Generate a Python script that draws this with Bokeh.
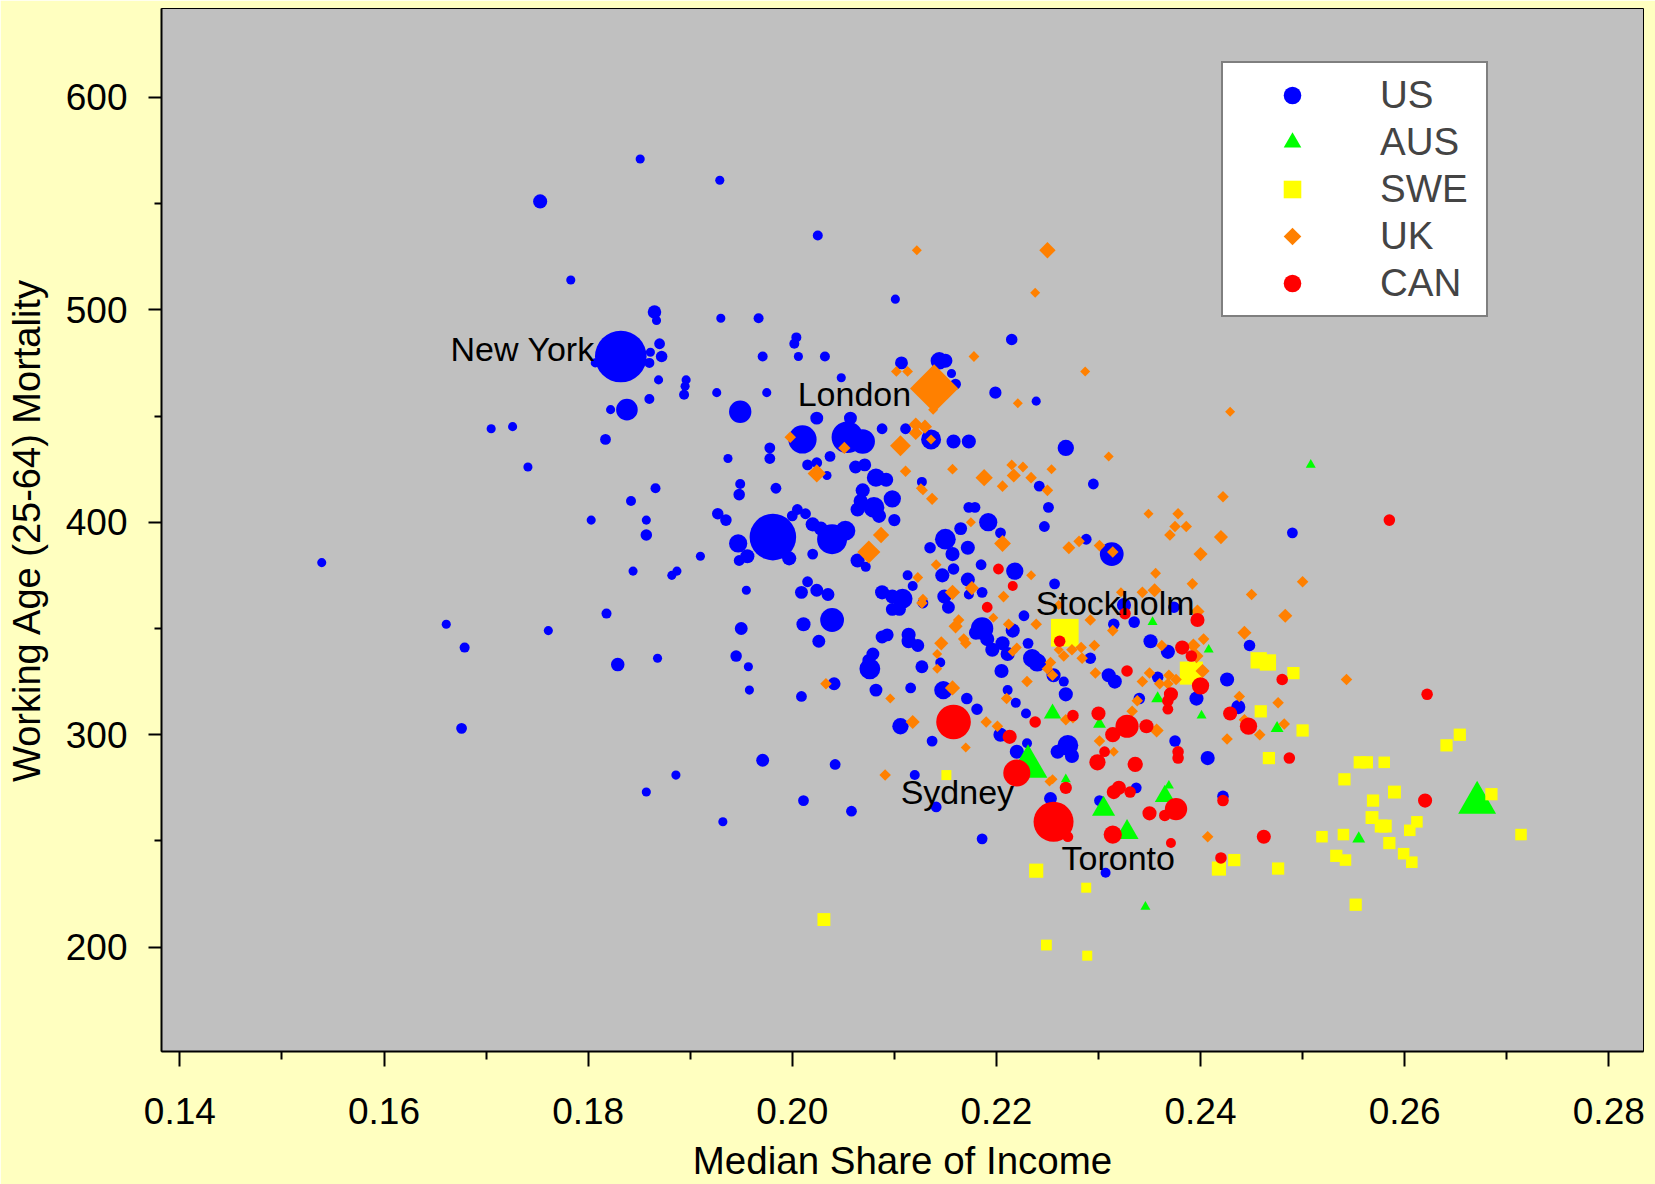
import numpy as np
from bokeh.plotting import figure
from bokeh.models import (ColumnDataSource, Range1d, FixedTicker, Legend, LegendItem,
                          CustomJSTickFormatter)
from bokeh.embed import file_html
from bokeh.resources import INLINE

# Median share of income vs working-age mortality, metro areas by country.
# pop = metropolitan population (millions), drives marker size.

us_share = [
    0.1832, 0.1851, 0.1929, 0.1753, 0.1783, 0.1865, 0.1867, 0.1930, 0.1870, 0.1872,
    0.1861, 0.1860, 0.1807, 0.1869, 0.1896, 0.1895, 0.1894, 0.1926, 0.1949, 0.1838,
    0.1822, 0.1860, 0.1705, 0.1726, 0.1817, 0.1741, 0.1937, 0.1949, 0.1948, 0.1866,
    0.1842, 0.1803, 0.1857, 0.1857, 0.1927, 0.1935, 0.1947, 0.1910, 0.1539, 0.1661,
    0.1679, 0.1761, 0.1818, 0.1829, 0.1868, 0.1844, 0.1887, 0.1882, 0.1948, 0.1955,
    0.1950, 0.1945, 0.1957, 0.1958, 0.1676, 0.1886, 0.1857, 0.1932, 0.2025, 0.2101,
    0.1967, 0.2004, 0.2002, 0.1971, 0.2006, 0.2032, 0.2048, 0.2215, 0.2107, 0.2144,
    0.2150, 0.2156, 0.2160, 0.1975, 0.2199, 0.2239, 0.2024, 0.2057, 0.2010, 0.2054,
    0.2069, 0.2088, 0.2111, 0.2136, 0.2158, 0.1978, 0.1978, 0.2037, 0.2015, 0.2024,
    0.2034, 0.2062, 0.2071, 0.2082, 0.2092, 0.2069, 0.2067, 0.2080, 0.2098, 0.2064,
    0.2085, 0.2100, 0.2127, 0.1984, 0.1981, 0.2005, 0.2013, 0.2000, 0.1997, 0.2020,
    0.2039, 0.2052, 0.2028, 0.2020, 0.1956, 0.2015, 0.2009, 0.2024, 0.2035, 0.2064,
    0.2072, 0.2113, 0.2118, 0.2135, 0.2150, 0.2157, 0.2147, 0.2158, 0.2165, 0.2088,
    0.2098, 0.2108, 0.2173, 0.2268, 0.2295, 0.2242, 0.2251, 0.2247, 0.2173, 0.2179,
    0.2192, 0.2204, 0.2172, 0.2185, 0.2218, 0.2172, 0.2186, 0.2257, 0.2288, 0.2313,
    0.2490, 0.2039, 0.2011, 0.2026, 0.2009, 0.2041, 0.2082, 0.2076, 0.2079, 0.2075,
    0.2098, 0.2105, 0.2088, 0.2093, 0.2114, 0.2114, 0.2123, 0.2128, 0.2149, 0.2153,
    0.2145, 0.2127, 0.2116, 0.2148, 0.2042, 0.1971, 0.2106, 0.2137, 0.2120, 0.2186,
    0.2180, 0.2191, 0.2196, 0.2216, 0.2206, 0.2211, 0.2227, 0.2231, 0.2235, 0.2240,
    0.2205, 0.2211, 0.2219, 0.2229, 0.2171, 0.2181, 0.2204, 0.2256, 0.2266, 0.2268,
    0.2173, 0.2325, 0.2335, 0.2351, 0.2315, 0.2292, 0.2310, 0.2316, 0.2358, 0.2340,
    0.2270, 0.2260, 0.2274, 0.2220, 0.2230, 0.2374, 0.2368, 0.2448, 0.2426, 0.2396,
    0.2437, 0.2375, 0.2407, 0.2011, 0.2058, 0.2141, 0.2186, 0.2253, 0.2301, 0.2337,
    0.2422, 0.2307,
]
us_mort = [
    478, 571, 561, 551, 514, 499, 495, 496, 484, 478,
    480, 475, 475, 467, 467, 464, 460, 461, 452, 453,
    453, 458, 444, 445, 439, 426, 430, 418, 413, 416,
    410, 401, 401, 394, 404, 401, 390, 384, 381, 352,
    341, 349, 357, 333, 336, 377, 377, 375, 382, 368,
    350, 337, 332, 321, 303, 281, 273, 259, 535, 505,
    496, 487, 484, 478, 478, 478, 468, 486, 475, 476,
    476, 470, 465, 461, 461, 457, 449, 449, 439, 440,
    438, 444, 444, 439, 438, 435, 430, 431, 427, 428,
    422, 426, 427, 421, 420, 415, 410, 407, 411, 406,
    403, 401, 419, 416, 393, 406, 404, 403, 383, 399,
    392, 396, 397, 385, 384, 372, 367, 368, 366, 382,
    379, 375, 370, 388, 392, 385, 375, 378, 397, 367,
    365, 364, 438, 435, 418, 417, 407, 398, 407, 407,
    400, 395, 388, 380, 377, 373, 367, 371, 392, 385,
    395, 354, 352, 344, 318, 324, 321, 331, 338, 335,
    359, 359, 346, 347, 347, 344, 342, 362, 365, 360,
    334, 332, 322, 321, 286, 288, 304, 297, 281, 350,
    348, 345, 340, 349, 343, 338, 356, 343, 336, 334,
    330, 321, 315, 310, 317, 312, 300, 328, 325, 319,
    366, 361, 353, 344, 352, 336, 328, 325, 327, 317,
    295, 292, 290, 292, 296, 360, 339, 342, 326, 317,
    313, 297, 289, 269, 264, 266, 251, 270, 269, 275,
    271, 235,
]
us_pop = [
    8.0, 0.25, 0.25, 0.6, 0.25, 0.55, 0.25, 0.25, 0.35, 0.4,
    0.25, 0.3, 0.25, 0.25, 0.25, 0.25, 0.3, 0.25, 1.5, 1.4,
    0.25, 0.3, 0.25, 0.25, 0.35, 0.25, 0.25, 0.3, 0.4, 0.3,
    0.3, 0.25, 0.25, 0.4, 0.4, 0.4, 1.0, 0.25, 0.25, 0.25,
    0.3, 0.25, 0.3, 0.55, 0.25, 0.25, 0.25, 0.25, 0.35, 0.25,
    0.5, 0.4, 0.25, 0.25, 0.35, 0.25, 0.25, 0.25, 0.3, 0.25,
    0.3, 0.3, 0.3, 0.3, 0.25, 0.3, 0.25, 0.4, 0.5, 0.9,
    0.6, 0.25, 0.35, 0.25, 0.45, 0.25, 0.5, 0.5, 2.4, 3.0,
    1.8, 0.35, 0.35, 1.2, 0.6, 0.35, 0.35, 0.35, 0.35, 0.35,
    0.25, 0.5, 0.5, 1.0, 0.6, 0.6, 0.6, 1.3, 0.9, 0.6,
    0.6, 0.45, 0.3, 0.35, 6.5, 0.35, 0.35, 0.35, 0.6, 0.6,
    2.7, 1.2, 0.6, 0.35, 0.6, 0.35, 0.5, 0.5, 0.5, 0.6,
    0.3, 0.3, 0.3, 0.4, 1.3, 0.6, 0.6, 0.4, 0.5, 0.6,
    0.6, 1.2, 0.6, 0.8, 0.35, 0.35, 0.35, 0.35, 0.35, 0.35,
    1.0, 0.35, 0.6, 0.35, 0.9, 0.6, 0.35, 0.35, 0.35, 1.7,
    0.35, 1.7, 0.6, 0.5, 0.35, 0.5, 0.5, 1.3, 0.5, 0.5,
    0.5, 0.5, 0.5, 0.5, 0.6, 0.6, 0.5, 0.35, 0.6, 0.5,
    0.3, 0.5, 0.35, 1.0, 0.35, 0.5, 0.8, 0.35, 0.3, 1.5,
    0.6, 0.6, 0.6, 0.6, 0.6, 0.6, 0.35, 0.35, 1.0, 1.0,
    0.6, 0.3, 0.3, 0.3, 0.4, 0.4, 0.6, 0.6, 0.3, 0.6,
    0.3, 0.6, 0.4, 0.6, 0.4, 0.4, 0.6, 0.6, 0.4, 0.4,
    1.3, 0.6, 0.6, 0.6, 0.3, 0.4, 0.6, 0.4, 0.6, 0.6,
    0.6, 0.4, 0.6, 0.35, 0.35, 0.35, 0.35, 0.5, 0.35, 0.35,
    0.4, 0.3,
]

aus_share = [0.2231, 0.2508, 0.2255, 0.2301, 0.2353, 0.2358, 0.2268, 0.2305, 0.2408,
             0.2401, 0.2475, 0.2369, 0.2365, 0.2328, 0.2555, 0.2671, 0.2346]
aus_mort = [285, 427, 310, 305, 353, 317, 279, 265, 340,
            309, 303, 276, 271, 254, 251, 268, 219]
aus_pop = [4.5, 0.3, 0.9, 0.5, 0.3, 0.5, 0.3, 1.6, 0.3,
           0.3, 0.5, 0.3, 1.2, 1.6, 0.5, 4.3, 0.3]

swe_share = [0.2267, 0.2151, 0.2391, 0.2457, 0.2466, 0.2491, 0.2459, 0.2500, 0.2467, 0.2556,
             0.2563, 0.2580, 0.2541, 0.2031, 0.2239, 0.2288, 0.2249, 0.2289, 0.2654, 0.2641,
             0.2590, 0.2569, 0.2685, 0.2568, 0.2577, 0.2581, 0.2612, 0.2605, 0.2585, 0.2519,
             0.2540, 0.2533, 0.2542, 0.2599, 0.2607, 0.2433, 0.2418, 0.2476, 0.2552, 0.2714]
swe_mort = [348, 281, 329, 335, 334, 329, 311, 302, 289, 287,
            287, 287, 279, 213, 236, 228, 201, 196, 300, 295,
            273, 269, 272, 261, 257, 257, 259, 255, 249, 252,
            253, 243, 241, 244, 240, 241, 237, 237, 220, 253]
swe_pop = [2.3, 0.3, 1.6, 0.8, 0.8, 0.45, 0.45, 0.45, 0.45, 0.45,
           0.45, 0.4, 0.45, 0.5, 0.6, 0.3, 0.35, 0.3, 0.45, 0.45,
           0.5, 0.45, 0.45, 0.5, 0.5, 0.5, 0.4, 0.4, 0.45, 0.4,
           0.4, 0.45, 0.4, 0.4, 0.4, 0.45, 0.6, 0.45, 0.45, 0.4]

uk_share = [
    0.2139, 0.2122, 0.2238, 0.2250, 0.2178, 0.2102, 0.2113, 0.2221, 0.2287, 0.2429,
    0.1998, 0.2051, 0.2024, 0.2106, 0.2121, 0.2130, 0.2121, 0.2136, 0.2111, 0.2157,
    0.2126, 0.2128, 0.2137, 0.2087, 0.2075, 0.2141, 0.2123, 0.2157, 0.2128, 0.2138,
    0.2310, 0.2215, 0.2226, 0.2188, 0.2217, 0.2206, 0.2234, 0.2254, 0.2250, 0.2349,
    0.2175, 0.2206, 0.2271, 0.2281, 0.2301, 0.2314, 0.2234, 0.2356, 0.2355, 0.2343,
    0.2322, 0.2176, 0.2207, 0.2422, 0.2378, 0.2375, 0.2386, 0.2370, 0.2420, 0.2400,
    0.2500, 0.2392, 0.2450, 0.2033, 0.2096, 0.2127, 0.2146, 0.2142, 0.2142, 0.2157,
    0.2160, 0.2118, 0.2091, 0.2163, 0.2168, 0.2170, 0.2197, 0.2212, 0.2239, 0.2216,
    0.2220, 0.2261, 0.2292, 0.2314, 0.2296, 0.2266, 0.2274, 0.2284, 0.2283, 0.2261,
    0.2253, 0.2250, 0.2255, 0.2297, 0.2230, 0.2210, 0.2343, 0.2338, 0.2333, 0.2350,
    0.2362, 0.2268, 0.2275, 0.2190, 0.2201, 0.2170, 0.2301, 0.2315, 0.2357, 0.2255,
    0.2397, 0.2483, 0.2443, 0.2403, 0.2393, 0.2396, 0.2402, 0.2369, 0.2376, 0.2368,
    0.2543, 0.2438, 0.2476, 0.2443, 0.2482, 0.2458, 0.2426, 0.2252, 0.2360, 0.2407,
]
uk_mort = [
    463, 528, 508, 528, 478, 471, 471, 456, 471, 452,
    440, 435, 423, 436, 446, 445, 442, 439, 424, 425,
    416, 415, 411, 394, 386, 380, 374, 367, 364, 453,
    431, 427, 426, 421, 422, 417, 421, 425, 415, 404,
    400, 390, 388, 391, 389, 386, 375, 376, 368, 367,
    367, 369, 365, 412, 404, 398, 398, 394, 393, 385,
    372, 371, 366, 324, 317, 362, 343, 338, 331, 322,
    351, 306, 281, 354, 345, 343, 355, 352, 352, 339,
    341, 361, 354, 349, 342, 337, 340, 336, 341, 340,
    334, 331, 328, 329, 325, 317, 325, 316, 311, 329,
    342, 307, 308, 306, 304, 294, 297, 292, 302, 279,
    358, 356, 348, 345, 342, 337, 330, 328, 326, 324,
    326, 318, 315, 307, 305, 300, 298, 278, 324, 252,
]
uk_pop = [
    7.0, 0.3, 0.3, 0.8, 0.35, 0.35, 0.35, 0.3, 0.3, 0.3,
    0.4, 0.45, 1.0, 1.3, 0.6, 0.6, 0.6, 0.3, 0.4, 0.35,
    0.3, 0.3, 0.45, 0.8, 1.6, 0.35, 0.35, 0.7, 0.3, 0.3,
    0.3, 0.35, 0.35, 0.9, 0.6, 0.4, 0.4, 0.3, 0.4, 0.3,
    0.3, 0.85, 0.5, 0.4, 0.4, 0.4, 0.3, 0.35, 0.6, 0.4,
    0.3, 0.6, 0.4, 0.4, 0.4, 0.4, 0.4, 0.4, 0.6, 0.6,
    0.4, 0.4, 0.4, 0.4, 0.3, 0.4, 0.6, 0.3, 0.3, 0.7,
    0.6, 0.6, 0.4, 0.4, 0.4, 0.4, 0.3, 0.4, 0.4, 0.3,
    0.3, 0.3, 0.4, 0.4, 0.4, 0.4, 0.4, 0.4, 0.4, 0.3,
    0.4, 0.4, 0.4, 0.4, 0.4, 0.4, 0.4, 0.4, 0.4, 0.4,
    0.4, 0.4, 0.4, 0.4, 0.4, 0.3, 0.4, 0.3, 0.6, 0.3,
    0.6, 0.6, 0.6, 0.4, 0.6, 0.6, 0.6, 0.4, 0.4, 0.4,
    0.4, 0.4, 0.4, 0.4, 0.4, 0.4, 0.4, 0.3, 0.4, 0.4,
]

can_share = [0.2256, 0.2202, 0.2216, 0.2158, 0.2262, 0.2191, 0.2326, 0.2328, 0.2275, 0.2238,
             0.2300, 0.2213, 0.2328, 0.2347, 0.2314, 0.2368, 0.2368, 0.2299, 0.2306, 0.2336,
             0.2220, 0.2397, 0.2382, 0.2391, 0.2400, 0.2371, 0.2480, 0.2429, 0.2447, 0.2378,
             0.2378, 0.2487, 0.2270, 0.2268, 0.2622, 0.2320, 0.2315, 0.2331, 0.2376, 0.2365,
             0.2350, 0.2422, 0.2314, 0.2462, 0.2620, 0.2371, 0.2420, 0.2585]
can_mort = [259, 378, 370, 306, 344, 360, 357, 330, 309, 306,
            310, 299, 304, 304, 300, 316, 312, 287, 292, 286,
            282, 354, 341, 337, 323, 319, 326, 310, 304, 292,
            289, 289, 252, 275, 319, 275, 273, 273, 265, 262,
            263, 269, 253, 252, 269, 249, 242, 401]
can_pop = [4.8, 0.35, 0.3, 3.6, 0.4, 0.35, 0.4, 0.4, 0.4, 0.4,
           0.6, 0.6, 1.6, 0.6, 0.7, 0.4, 0.35, 0.8, 0.35, 0.7,
           2.2, 0.6, 0.6, 0.4, 0.9, 0.6, 0.4, 0.6, 0.9, 0.4,
           0.4, 0.4, 0.35, 0.45, 0.4, 0.6, 0.6, 0.4, 1.5, 0.4,
           0.6, 0.4, 1.0, 0.6, 0.6, 0.3, 0.4, 0.4]

# Named cities (each is the first entry of its country's lists)
label_right = ["New York", "London", "Sydney"]
label_left = ["Stockholm", "Toronto"]

FONT = "Liberation Sans"

W, H = 1655, 1184
FRAME_L, FRAME_R, FRAME_T, FRAME_B = 161, 1643, 8, 1051


def marker_px(pop):
    # diameter in screen pixels, area proportional to population
    return 10.0 * np.sqrt(np.asarray(pop, dtype=float) / 0.3)


p = figure(width=W, height=H, output_backend="svg", toolbar_location=None,
           x_range=Range1d(0.1382, 0.2834), y_range=Range1d(150.9, 641.8),
           min_border_left=FRAME_L, min_border_right=W - FRAME_R,
           min_border_top=FRAME_T, min_border_bottom=H - FRAME_B,
           background_fill_color="#C0C0C0", border_fill_color="#FFFFC0",
           outline_line_color="black", outline_line_width=1,
           x_axis_label="Median Share of Income",
           y_axis_label="Working Age (25-64) Mortality")
p.grid.visible = False

series = [
    ("US", us_share, us_mort, us_pop, "circle", "#0000FF"),
    ("AUS", aus_share, aus_mort, aus_pop, "triangle", "#00FF00"),
    ("SWE", swe_share, swe_mort, swe_pop, "square", "#FFFF00"),
    ("UK", uk_share, uk_mort, uk_pop, "diamond", "#FF8000"),
    ("CAN", can_share, can_mort, can_pop, "circle", "#FF0000"),
]

items = []
for name, xs, ys, pops, marker, color in series:
    if marker == "diamond":
        # square standing on a corner: 4-gon with screen-space radius = half diagonal
        src = ColumnDataSource(dict(x=xs, y=ys, r=marker_px(pops) / 2))
        r = p.ngon("x", "y", radius="r", n=4, radius_units="screen", source=src,
                   fill_color=color, line_color=None)
    else:
        src = ColumnDataSource(dict(x=xs, y=ys, s=marker_px(pops)))
        r = p.scatter("x", "y", size="s", source=src, marker=marker,
                      fill_color=color, line_color=None)
    items.append(LegendItem(label=name, renderers=[r]))

# city labels anchored on the city points
p.text(x=[us_share[0], uk_share[0], aus_share[0]],
       y=[us_mort[0], uk_mort[0], aus_mort[0]],
       text=label_right, x_offset=[-26, -23, -14], y_offset=[-8, 6, 25],
       text_align="right", text_baseline="middle", text_color="black",
       text_font={"value": FONT}, text_font_size="34px")
p.text(x=[swe_share[0], can_share[0]], y=[swe_mort[0], can_mort[0]],
       text=label_left, x_offset=[-29, 8], y_offset=[-30, 36],
       text_align="left", text_baseline="middle", text_color="black",
       text_font={"value": FONT}, text_font_size="34px")

legend = Legend(items=items, location=(1060, 734), margin=0, padding=10,
                spacing=3, label_height=44, glyph_height=44,
                glyph_width=118, label_standoff=29, label_width=96,
                label_text_font=FONT, label_text_font_size="38.5px",
                border_line_color="black", border_line_width=2,
                background_fill_color="white", background_fill_alpha=1.0)
p.add_layout(legend)

xt = [0.14 + 0.02 * i for i in range(8)]
xm = [0.15 + 0.02 * i for i in range(7)]
p.xaxis.ticker = FixedTicker(ticks=xt, minor_ticks=xm)
p.xaxis.formatter = CustomJSTickFormatter(code="return tick.toFixed(2);")
p.yaxis.ticker = FixedTicker(ticks=[200, 300, 400, 500, 600], minor_ticks=[250, 350, 450, 550])

for ax in (p.xaxis[0], p.yaxis[0]):
    ax.axis_line_color = "black"
    ax.axis_line_width = 2
    ax.major_tick_line_color = "black"
    ax.minor_tick_line_color = "black"
    ax.major_tick_line_width = 2
    ax.minor_tick_line_width = 2
    ax.major_tick_in = 0
    ax.minor_tick_in = 0
    ax.major_label_text_font = FONT
    ax.major_label_text_font_size = "37px"
    ax.major_label_text_color = "black"
    ax.axis_label_text_font = FONT
    ax.axis_label_text_font_style = "normal"
    ax.axis_label_text_color = "black"

p.xaxis.axis_label_text_font_size = "38.5px"
p.yaxis.axis_label_text_font_size = "38px"
p.xaxis.major_tick_out = 15
p.xaxis.minor_tick_out = 8
p.xaxis.major_label_standoff = 31
p.xaxis.axis_label_standoff = 12
p.yaxis.major_tick_out = 13
p.yaxis.minor_tick_out = 7
p.yaxis.major_label_standoff = 21
p.yaxis.axis_label_standoff = 15

open("out.html", "w").write(file_html(p, INLINE))
